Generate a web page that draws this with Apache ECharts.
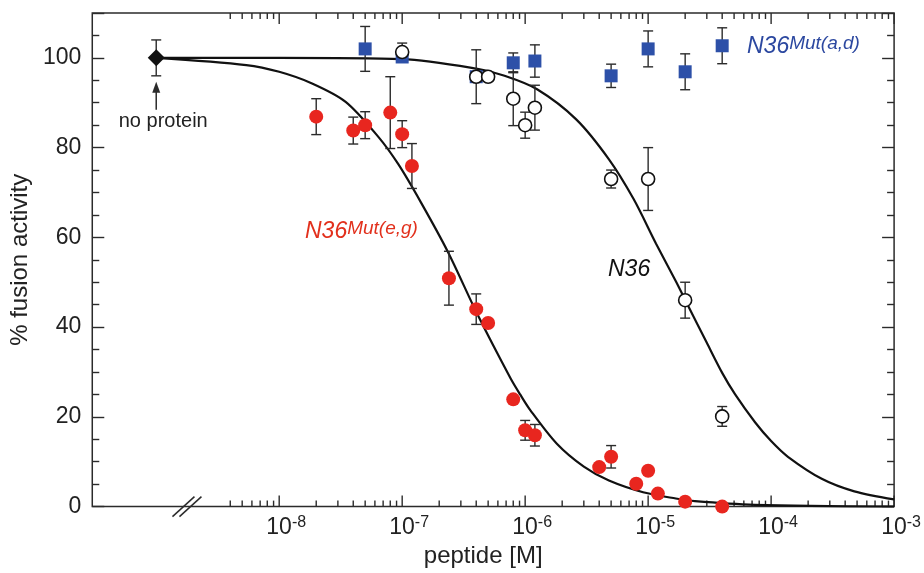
<!DOCTYPE html>
<html>
<head>
<meta charset="utf-8">
<title>% fusion activity vs peptide</title>
<script src="https://cdn.jsdelivr.net/npm/echarts@6/dist/echarts.min.js"></script>
<style>
    html, body { margin: 0; padding: 0; background: #fff; }
    #fusionChart { width: 924px; height: 573px; }
</style>
</head>
<body>
<div id="fusionChart"></div>
<script>
// no protein control (drawn at the broken left end of the axis)
var noProteinX = [1e-9];
var noProteinY = [100];
var noProteinErr = [4];

// N36Mut(a,d) - blue squares
var adX = [5e-8, 1e-7, 4e-7, 8e-7, 1.2e-6, 5e-6, 1e-5, 2e-5, 4e-5];
var adY = [102, 100.2, 95.8, 98.9, 99.3, 96, 102, 96.9, 102.7];
var adErr = [5, 0, 0, 2.2, 3.6, 2.6, 4, 4, 4];

// N36 - open circles
var n36X = [1e-7, 4e-7, 5e-7, 8e-7, 1e-6, 1.2e-6, 5e-6, 1e-5, 2e-5, 4e-5];
var n36Y = [101.3, 95.8, 95.8, 90.9, 85.0, 88.9, 73.0, 73.0, 46.0, 20.1];
var n36Err = [2, 6, 0, 6, 2.9, 5, 2, 7, 4, 2.2];

// N36Mut(e,g) - red circles
var egX = [2e-8, 4e-8, 5e-8, 8e-8, 1e-7, 1.2e-7, 2.4e-7, 4e-7, 5e-7, 8e-7, 1e-6, 1.2e-6, 4e-6, 5e-6, 8e-6, 1e-5, 1.2e-5, 2e-5, 4e-5];
var egY = [86.9, 83.8, 85.0, 87.8, 83.0, 75.9, 50.9, 44.0, 40.9, 23.9, 17.0, 15.9, 8.8, 11.1, 5.1, 8.0, 2.9, 1.1, 0];
var egErr = [4, 3, 3, 8, 3, 5, 6, 3.4, 0, 0, 2.2, 2.4, 0, 2.5, 0, 0, 0, 0, 0];

// fitted curves
var n36CurveX = [1e-9, 1e-8, 1e-7, 4e-7, 6.8e-7, 1.25e-6, 2.6e-6, 4.8e-6, 7.6e-6, 1.16e-5, 1.68e-5, 2.04e-5, 3e-5, 4e-5, 5.1e-5, 7.4e-5, 1e-4, 1.37e-4, 2.58e-4, 4.75e-4, 1e-3];
var n36CurveY = [100, 100, 99.7, 97.6, 96.0, 93.0, 86.3, 77.4, 68.6, 58.6, 50.2, 45.6, 36.5, 29.8, 25.0, 18.8, 14.6, 11.1, 6.2, 3.4, 1.6];
var egCurveX = [1e-9, 5.4e-9, 1e-8, 1.85e-8, 3.47e-8, 6.4e-8, 9.3e-8, 1.42e-7, 2.35e-7, 4.1e-7, 7.6e-7, 9.1e-7, 1.1e-6, 1.81e-6, 3e-6, 4.8e-6, 9.1e-6, 1.68e-5, 2.4e-5, 7.4e-5, 1e-3];
var egCurveY = [100, 98.4, 96.9, 94.3, 90.2, 82.4, 76.3, 67.8, 56.8, 42.8, 28.6, 25.0, 21.5, 14, 8.9, 5.8, 3.2, 1.8, 1.2, 0.4, 0];

// axis ticks
var decades = [1e-8, 1e-7, 1e-6, 1e-5, 1e-4, 1e-3];
var minorSteps = [2, 3, 4, 5, 6, 7, 8, 9];
var firstMinorTicks = [4e-9, 5e-9, 6e-9, 7e-9, 8e-9, 9e-9];
var yTicks = [0, 20, 40, 60, 80, 100];

var RED = '#e8261f';
var BLUE = '#2d50a8';
var INK = '#2b2b2b';
var FONT = '"Liberation Sans", Arial, sans-serif';

function pairs(xs, ys) {
    var out = [];
    for (var i = 0; i < xs.length; i++) {
        out.push([xs[i], ys[i]]);
    }
    return out;
}

function errorData(xs, ys, errs) {
    var out = [];
    for (var i = 0; i < xs.length; i++) {
        if (errs[i] > 0) {
            out.push([xs[i], ys[i] - errs[i], ys[i] + errs[i]]);
        }
    }
    return out;
}

function tickData() {
    var out = [];
    for (var i = 0; i < firstMinorTicks.length; i++) {
        out.push([firstMinorTicks[i], 0]);
    }
    for (var d = 0; d < decades.length; d++) {
        out.push([decades[d], 1]);
        if (d < decades.length - 1) {
            for (var m = 0; m < minorSteps.length; m++) {
                out.push([decades[d] * minorSteps[m], 0]);
            }
        }
    }
    return out;
}

function renderErrorBar(params, api) {
    var x = api.value(0);
    var top = api.coord([x, api.value(2)]);
    var bottom = api.coord([x, api.value(1)]);
    var hw = 5;
    var style = { stroke: INK, lineWidth: 1.4 };
    return {
        type: 'group',
        children: [
            { type: 'line', shape: { x1: top[0], y1: top[1], x2: bottom[0], y2: bottom[1] }, style: style },
            { type: 'line', shape: { x1: top[0] - hw, y1: top[1], x2: top[0] + hw, y2: top[1] }, style: style },
            { type: 'line', shape: { x1: bottom[0] - hw, y1: bottom[1], x2: bottom[0] + hw, y2: bottom[1] }, style: style }
        ]
    };
}

function renderXTick(params, api) {
    var x = api.coord([api.value(0), 0])[0];
    var cs = params.coordSys;
    var len = api.value(1) ? 11 : 6;
    var style = { stroke: INK, lineWidth: 1.4 };
    return {
        type: 'group',
        children: [
            { type: 'line', shape: { x1: x, y1: cs.y + cs.height, x2: x, y2: cs.y + cs.height - len }, style: style },
            { type: 'line', shape: { x1: x, y1: cs.y, x2: x, y2: cs.y + len }, style: style }
        ]
    };
}

function xLabel(value) {
    var e = Math.log(value) / Math.LN10;
    var r = Math.round(e);
    if (Math.abs(e - r) > 1e-6 || r < -8) {
        return '';
    }
    return '{b|10}{s|' + r + '}';
}

function yAxisCfg(position) {
    return {
        type: 'value',
        position: position,
        min: 0,
        max: 110,
        interval: 20,
        name: position === 'left' ? '% fusion activity' : '',
        nameLocation: 'middle',
        nameGap: 58,
        nameTextStyle: { fontFamily: FONT, fontSize: 24, color: '#222' },
        axisLine: { show: false },
        axisTick: { show: true, inside: true, length: 12, lineStyle: { color: INK, width: 1.4 } },
        minorTick: { show: true, splitNumber: 4, length: 7, lineStyle: { color: INK, width: 1.4 } },
        axisLabel: {
            show: position === 'left',
            margin: 11,
            fontFamily: FONT,
            fontSize: 23,
            color: '#222',
            formatter: function (v) {
                return yTicks.indexOf(v) >= 0 ? String(v) : '';
            }
        },
        splitLine: { show: false },
        minorSplitLine: { show: false }
    };
}

var fusionChart = echarts.init(document.getElementById('fusionChart'));
var option = {
    backgroundColor: '#fff',
    animation: false,
    grid: {
        left: 91, right: 24, top: 13, bottom: 63,
        show: true, borderColor: INK, borderWidth: 1.5, backgroundColor: 'transparent'
    },
    xAxis: [{
        type: 'log',
        logBase: 10,
        min: Math.pow(10, -9.52),
        max: 1e-3,
        name: 'peptide [M]',
        nameLocation: 'middle',
        nameGap: 33,
        nameTextStyle: { fontFamily: FONT, fontSize: 24, color: '#222', padding: [0, 20, 0, 0] },
        axisLine: { show: false },
        axisTick: { show: false },
        splitLine: { show: false },
        axisLabel: {
            interval: 0,
            hideOverlap: false,
            margin: 8,
            formatter: xLabel,
            rich: {
                b: { fontFamily: FONT, fontSize: 23, color: '#222', lineHeight: 26, padding: [0, 0, 0, 14] },
                s: { fontFamily: FONT, fontSize: 16, color: '#222', lineHeight: 16, verticalAlign: 'top' }
            }
        }
    }],
    yAxis: [yAxisCfg('left'), yAxisCfg('right')],
    series: [
        {
            name: 'x ticks',
            type: 'custom',
            silent: true,
            clip: false,
            renderItem: renderXTick,
            data: tickData(),
            z: 1
        },
        {
            name: 'N36 fit',
            type: 'line',
            data: pairs(n36CurveX, n36CurveY),
            smooth: 0.3,
            showSymbol: false,
            lineStyle: { color: '#111', width: 2.2 },
            z: 2
        },
        {
            name: 'N36Mut(e,g) fit',
            type: 'line',
            data: pairs(egCurveX, egCurveY),
            smooth: 0.3,
            showSymbol: false,
            lineStyle: { color: '#111', width: 2.2 },
            z: 2
        },
        {
            name: 'error bars',
            type: 'custom',
            silent: true,
            renderItem: renderErrorBar,
            data: errorData(adX, adY, adErr)
                .concat(errorData(n36X, n36Y, n36Err))
                .concat(errorData(egX, egY, egErr))
                .concat(errorData(noProteinX, noProteinY, noProteinErr)),
            z: 3
        },
        {
            name: 'N36Mut(a,d)',
            type: 'scatter',
            symbol: 'rect',
            symbolSize: 13,
            data: pairs(adX, adY),
            itemStyle: { color: BLUE, opacity: 1 },
            z: 4
        },
        {
            name: 'N36',
            type: 'scatter',
            symbol: 'circle',
            symbolSize: 13,
            data: pairs(n36X, n36Y),
            itemStyle: { color: '#fff', borderColor: '#111', borderWidth: 1.6, opacity: 1 },
            z: 5
        },
        {
            name: 'N36Mut(e,g)',
            type: 'scatter',
            symbol: 'circle',
            symbolSize: 14,
            data: pairs(egX, egY),
            itemStyle: { color: RED, opacity: 1 },
            z: 5
        },
        {
            name: 'no protein',
            type: 'scatter',
            symbol: 'diamond',
            symbolSize: [17, 17],
            data: pairs(noProteinX, noProteinY),
            itemStyle: { color: '#111', opacity: 1 },
            z: 5
        }
    ]
};
fusionChart.setOption(option);

// annotations: arrow, axis break and series labels
var anchor = fusionChart.convertToPixel({ gridIndex: 0 }, [noProteinX[0], noProteinY[0]]);
var brk = fusionChart.convertToPixel({ gridIndex: 0 }, [Math.pow(10, -8.75), 0]);
var lineStyle = { stroke: INK, lineWidth: 1.5 };
fusionChart.setOption({
    graphic: [
        { type: 'line', shape: { x1: anchor[0], y1: anchor[1] + 52, x2: anchor[0], y2: anchor[1] + 32 }, style: lineStyle, z: 10 },
        { type: 'polygon', shape: { points: [[anchor[0], anchor[1] + 24], [anchor[0] - 4, anchor[1] + 35], [anchor[0] + 4, anchor[1] + 35]] }, style: { fill: INK }, z: 10 },
        {
            type: 'text', x: anchor[0] + 7, y: anchor[1] + 64, z: 10,
            style: { text: 'no protein', fontFamily: FONT, fontSize: 20, fill: '#222', align: 'center', verticalAlign: 'middle' }
        },
        { type: 'line', shape: { x1: brk[0] - 14.5, y1: brk[1] + 10, x2: brk[0] + 7.5, y2: brk[1] - 10 }, style: lineStyle, z: 10 },
        { type: 'line', shape: { x1: brk[0] - 7.5, y1: brk[1] + 10, x2: brk[0] + 14.5, y2: brk[1] - 10 }, style: lineStyle, z: 10 },
        {
            type: 'text', x: 747, y: 47, z: 10,
            style: {
                text: '{n|N36}{m|Mut(a,d)}', verticalAlign: 'middle',
                rich: {
                    n: { fontFamily: FONT, fontStyle: 'italic', fontSize: 23, fill: '#2c48a0', lineHeight: 26 },
                    m: { fontFamily: FONT, fontStyle: 'italic', fontSize: 19, fill: '#2c48a0', lineHeight: 19, verticalAlign: 'top' }
                }
            }
        },
        {
            type: 'text', x: 305, y: 232, z: 10,
            style: {
                text: '{n|N36}{m|Mut(e,g)}', verticalAlign: 'middle',
                rich: {
                    n: { fontFamily: FONT, fontStyle: 'italic', fontSize: 23, fill: '#e2301c', lineHeight: 26 },
                    m: { fontFamily: FONT, fontStyle: 'italic', fontSize: 19, fill: '#e2301c', lineHeight: 19, verticalAlign: 'top' }
                }
            }
        },
        {
            type: 'text', x: 608, y: 270, z: 10,
            style: { text: 'N36', fontFamily: FONT, fontStyle: 'italic', fontSize: 23, fill: '#111', verticalAlign: 'middle' }
        }
    ]
});
</script>
</body>
</html>
